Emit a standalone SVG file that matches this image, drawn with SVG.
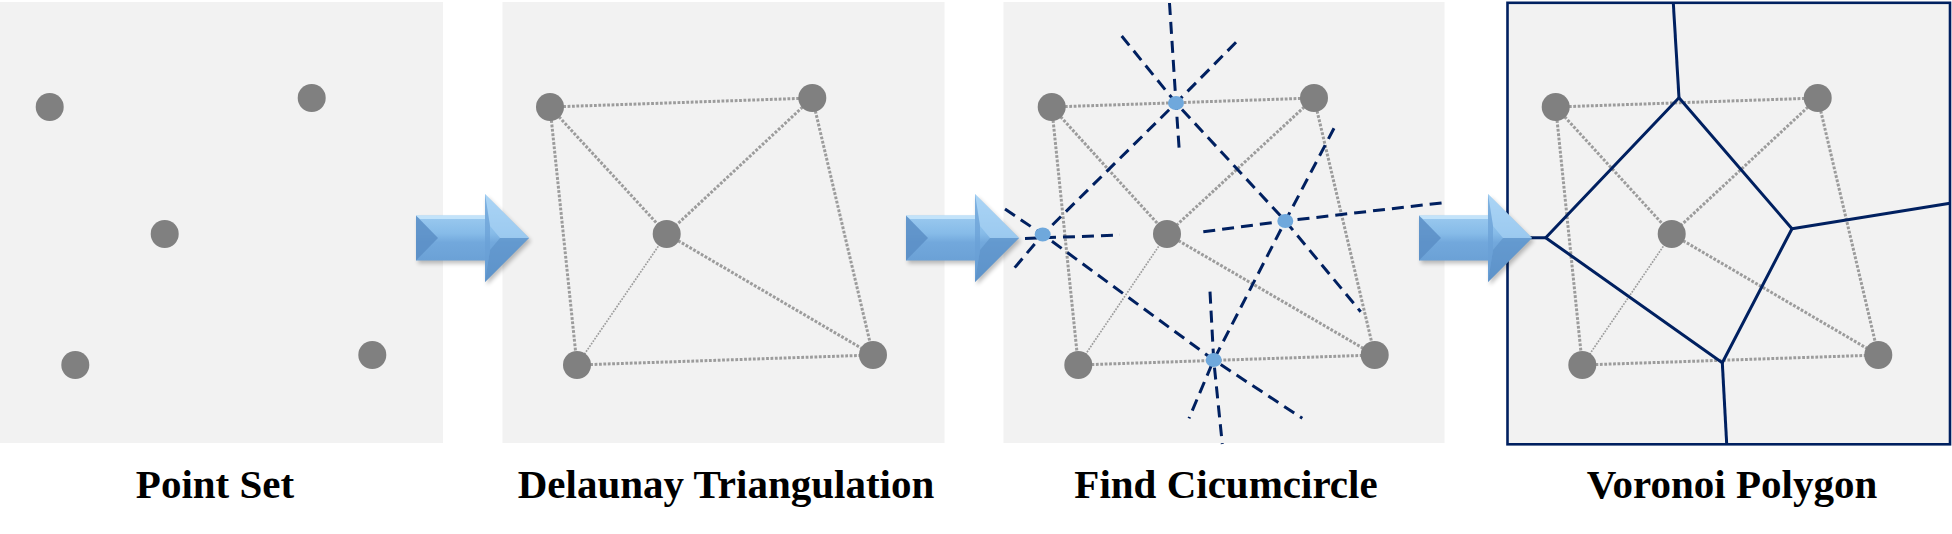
<svg xmlns="http://www.w3.org/2000/svg" width="1952" height="534" viewBox="0 0 1952 534">
<defs>
<linearGradient id="ag" x1="0" y1="0" x2="0" y2="1">
<stop offset="0" stop-color="#b4dbf8"/>
<stop offset="0.45" stop-color="#86bbe8"/>
<stop offset="0.55" stop-color="#72a8dc"/>
<stop offset="1" stop-color="#6399cf"/>
</linearGradient>
<filter id="sh" x="-20%" y="-20%" width="140%" height="140%">
<feGaussianBlur stdDeviation="2"/>
</filter>
<g id="arrow">
<path d="M2,-19.5 H71 V-41 L115,3 L71,47 V25.5 H2 Z" fill="#000" opacity="0.25" filter="url(#sh)"/>
<path d="M0,-22.5 H69 V-44 L113,0 L69,44 V22.5 H0 Z" fill="url(#ag)"/>
<path d="M0,-22.5 L0,22.5 L22,0 Z" fill="#5b8ec6" opacity="0.85"/>
<path d="M0,-22.5 H69 V-19 H4 Z" fill="#cdeafc" opacity="0.8"/>
<path d="M69,-44 L113,0 L84,0 L74,-12 Z" fill="#a6d2f4" opacity="0.7"/>
<path d="M69,44 L113,0 L84,0 L74,12 Z" fill="#5a8fc7" opacity="0.6"/>
<path d="M69,-44 L74,-12 L74,12 L69,44 Z" fill="#6a9fd6" opacity="0.7"/>
</g>
</defs>
<style>
.panel{fill:#f2f2f2}
.pt{fill:#808080}
.dot{stroke:#9c9c9c;stroke-width:3;stroke-dasharray:2.8 1.6;fill:none}
.thin{stroke:#9c9c9c;stroke-width:1.7;stroke-dasharray:1.7 1.3;fill:none}
.dash{stroke:#002060;stroke-width:3;stroke-dasharray:12 7;fill:none}
.cc{fill:#6fa8dc}
.vor{stroke:#002060;stroke-width:3;fill:none;stroke-linejoin:round}
.lbl{font-family:"Liberation Serif","Times New Roman",serif;font-weight:bold;font-size:41px;fill:#000;text-anchor:middle}
</style>

<g id="panel1">
<rect class="panel" x="0" y="2" width="443" height="441"/>
<circle class="pt" cx="49.7" cy="107" r="14"/>
<circle class="pt" cx="311.7" cy="98" r="14"/>
<circle class="pt" cx="164.7" cy="234" r="14"/>
<circle class="pt" cx="75.3" cy="365" r="14"/>
<circle class="pt" cx="372.3" cy="355" r="14"/>
<text class="lbl" x="215" y="498">Point Set</text>
</g>

<g id="panel2">
<rect class="panel" x="502.5" y="2" width="442" height="441"/>
<g>
<line class="dot" x1="550" y1="107" x2="812.3" y2="98"/>
<line class="dot" x1="550" y1="107" x2="666.7" y2="234"/>
<line class="dot" x1="550" y1="107" x2="577" y2="365"/>
<line class="dot" x1="812.3" y1="98" x2="666.7" y2="234"/>
<line class="dot" x1="812.3" y1="98" x2="873" y2="355"/>
<line class="thin" x1="666.7" y1="234" x2="577" y2="365"/>
<line class="dot" x1="666.7" y1="234" x2="873" y2="355"/>
<line class="dot" x1="577" y1="365" x2="873" y2="355"/>
</g>
<circle class="pt" cx="550" cy="107" r="14"/>
<circle class="pt" cx="812.3" cy="98" r="14"/>
<circle class="pt" cx="666.7" cy="234" r="14"/>
<circle class="pt" cx="577" cy="365" r="14"/>
<circle class="pt" cx="873" cy="355" r="14"/>
<text class="lbl" x="726" y="498">Delaunay Triangulation</text>
</g>

<g id="panel3">
<rect class="panel" x="1003.5" y="2" width="441" height="441"/>
<g>
<line class="dot" x1="1051.7" y1="107" x2="1314" y2="98"/>
<line class="dot" x1="1051.7" y1="107" x2="1167" y2="234"/>
<line class="dot" x1="1051.7" y1="107" x2="1078.3" y2="365"/>
<line class="dot" x1="1314" y1="98" x2="1167" y2="234"/>
<line class="dot" x1="1314" y1="98" x2="1374.7" y2="355"/>
<line class="thin" x1="1167" y1="234" x2="1078.3" y2="365"/>
<line class="dot" x1="1167" y1="234" x2="1374.7" y2="355"/>
<line class="dot" x1="1078.3" y1="365" x2="1374.7" y2="355"/>
</g>
<circle class="pt" cx="1051.7" cy="107" r="14"/>
<circle class="pt" cx="1314" cy="98" r="14"/>
<circle class="pt" cx="1167" cy="234" r="14"/>
<circle class="pt" cx="1078.3" cy="365" r="14"/>
<circle class="pt" cx="1374.7" cy="355" r="14"/>
<g id="bisectors">
<polyline class="dash" points="1169.5,3 1176,103 1179.5,154"/>
<polyline class="dash" points="1121.7,36 1176,103 1285.3,221 1360.7,311.7"/>
<polyline class="dash" points="1236,42.3 1176,103 1042.7,234.5 1013.3,269.3"/>
<polyline class="dash" points="1005,209 1042.7,234.5 1213.7,360 1302.3,418.3"/>
<line class="dash" x1="1025" y1="238.5" x2="1120" y2="235"/>
<polyline class="dash" points="1203.3,231.7 1285.3,221 1443.5,202.7"/>
<polyline class="dash" points="1334,128.3 1285.3,221 1213.7,360 1189,418.3"/>
<polyline class="dash" points="1210,291.7 1213.7,360 1222.3,444"/>
</g>
<ellipse class="cc" cx="1176" cy="103" rx="8" ry="7"/>
<ellipse class="cc" cx="1042.7" cy="234.5" rx="8" ry="7"/>
<ellipse class="cc" cx="1285.3" cy="221" rx="8" ry="7"/>
<ellipse class="cc" cx="1213.7" cy="360" rx="8" ry="7"/>
<text class="lbl" x="1226" y="498">Find Cicumcircle</text>
</g>

<g id="panel4">
<rect class="panel" x="1507.5" y="2.8" width="442.5" height="441.5"/>
<g>
<line class="dot" x1="1555.7" y1="107" x2="1817.7" y2="98"/>
<line class="dot" x1="1555.7" y1="107" x2="1671.7" y2="234"/>
<line class="dot" x1="1555.7" y1="107" x2="1582.3" y2="365"/>
<line class="dot" x1="1817.7" y1="98" x2="1671.7" y2="234"/>
<line class="dot" x1="1817.7" y1="98" x2="1878.3" y2="355"/>
<line class="thin" x1="1671.7" y1="234" x2="1582.3" y2="365"/>
<line class="dot" x1="1671.7" y1="234" x2="1878.3" y2="355"/>
<line class="dot" x1="1582.3" y1="365" x2="1878.3" y2="355"/>
</g>
<circle class="pt" cx="1555.7" cy="107" r="14"/>
<circle class="pt" cx="1817.7" cy="98" r="14"/>
<circle class="pt" cx="1671.7" cy="234" r="14"/>
<circle class="pt" cx="1582.3" cy="365" r="14"/>
<circle class="pt" cx="1878.3" cy="355" r="14"/>
<g id="voronoi">
<polygon class="vor" points="1679,97.7 1792,228.7 1722.3,362.7 1545.7,237.7"/>
<line class="vor" x1="1679" y1="97.7" x2="1673.3" y2="3"/>
<line class="vor" x1="1792" y1="228.7" x2="1950" y2="203.3"/>
<line class="vor" x1="1722.3" y1="362.7" x2="1726.7" y2="444"/>
<line class="vor" x1="1545.7" y1="237.7" x2="1507" y2="237.7"/>
</g>
<rect x="1507.5" y="2.8" width="442.5" height="441.5" fill="none" stroke="#002060" stroke-width="2.6"/>
<text class="lbl" x="1732" y="498">Voronoi Polygon</text>
</g>

<g id="arrows">
<use href="#arrow" transform="translate(416,238)"/>
<use href="#arrow" transform="translate(906,238)"/>
<use href="#arrow" transform="translate(1419,238)"/>
</g>
</svg>
